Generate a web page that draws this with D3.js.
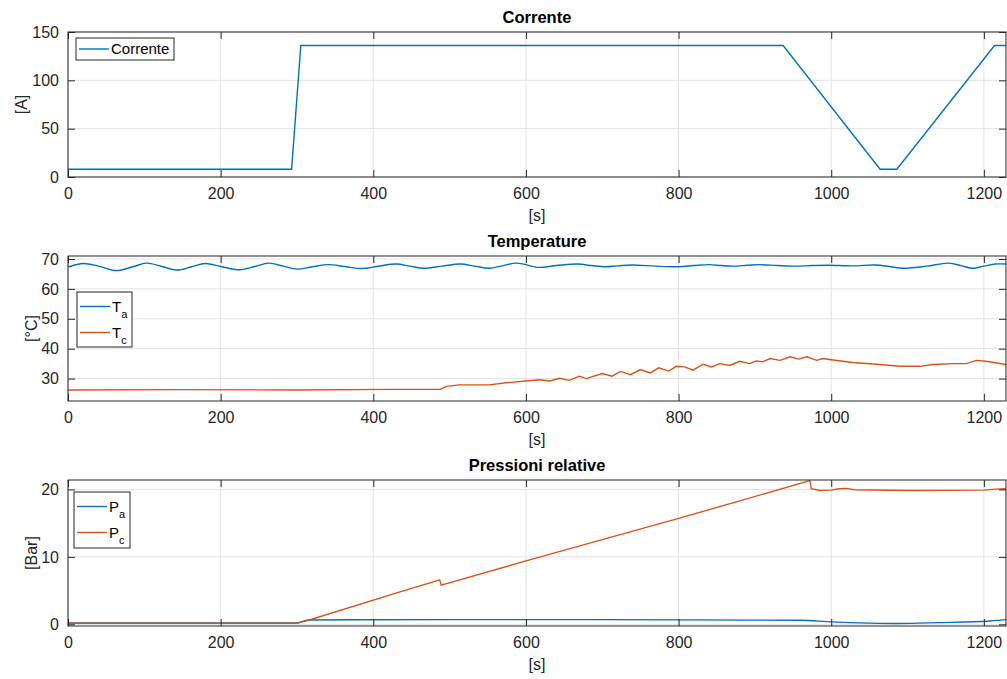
<!DOCTYPE html>
<html>
<head>
<meta charset="utf-8">
<script src="https://cdn.jsdelivr.net/npm/d3@7"></script>
<style>
  body { margin: 0; background: #fff; }
  svg { display: block; font-family: "Liberation Sans", Arial, Helvetica, sans-serif; }
</style>
</head>
<body>
<div id="chart"></div>
<script>
// x axis ticks (time in seconds)
const xTicks = [0, 200, 400, 600, 800, 1000, 1200];

// Corrente [A]
const corrente = [[0, 8], [293, 8], [305, 136], [937, 136], [1064, 8], [1086, 8], [1214, 136], [1229, 136]];

// Temperature [°C]
const tempA = [[0, 67.3], [20, 68.5], [40, 67.6], [64, 66.1], [85, 67.4], [103, 68.6], [123, 67.5], [143, 66.3],
  [162, 67.4], [180, 68.5], [200, 67.5], [225, 66.4], [245, 67.5], [263, 68.6], [282, 67.6], [300, 66.6],
  [320, 67.4], [341, 68.1], [362, 67.5], [385, 66.8], [405, 67.5], [430, 68.3], [448, 67.6], [466, 66.9],
  [490, 67.6], [514, 68.3], [533, 67.6], [552, 66.9], [570, 67.8], [587, 68.6], [600, 68.1], [615, 67.2],
  [640, 67.8], [668, 68.3], [686, 67.8], [704, 67.4], [720, 67.7], [739, 68.0], [770, 67.6], [800, 67.4],
  [820, 67.8], [840, 68.1], [856, 67.8], [871, 67.6], [890, 67.9], [906, 68.1], [930, 67.8], [952, 67.6],
  [975, 67.8], [997, 67.9], [1028, 67.7], [1058, 68.0], [1076, 67.5], [1094, 66.9], [1125, 67.6], [1154, 68.6],
  [1170, 67.8], [1185, 66.9], [1200, 67.6], [1215, 68.3], [1229, 68.3]];
const tempC = [[0, 26.2], [150, 26.3], [300, 26.2], [420, 26.4], [488, 26.4], [496, 27.4], [513, 27.9], [552, 27.9],
  [574, 28.6], [600, 29.2], [618, 29.6], [631, 29.2], [644, 30.1], [657, 29.4], [670, 30.8], [679, 30.0],
  [700, 31.7], [713, 30.8], [724, 32.4], [737, 31.3], [750, 33.0], [763, 31.9], [774, 33.6], [787, 32.5],
  [797, 34.1], [808, 33.9], [819, 32.8], [832, 34.8], [843, 33.9], [854, 35.0], [867, 34.4], [880, 35.8],
  [893, 35.0], [902, 35.9], [910, 35.6], [920, 36.7], [933, 36.1], [946, 37.3], [957, 36.5], [968, 37.3],
  [981, 36.1], [989, 36.7], [1000, 36.3], [1028, 35.4], [1064, 34.7], [1090, 34.1], [1116, 34.1], [1133, 34.7],
  [1160, 35.0], [1177, 35.0], [1190, 36.1], [1203, 35.8], [1229, 34.7]];

// Pressioni relative [Bar]
const pressA = [[0, 0.2], [300, 0.2], [315, 0.65], [500, 0.7], [700, 0.7], [959, 0.6], [1000, 0.36], [1050, 0.18],
  [1086, 0.12], [1140, 0.25], [1208, 0.5], [1229, 0.7]];
const pressC = [[0, 0.15], [300, 0.15], [315, 0.6], [435, 4.8], [487, 6.6], [489, 5.8], [600, 9.4], [800, 15.7],
  [972, 21.3], [974, 20.1], [985, 19.85], [1000, 19.9], [1010, 20.1], [1020, 20.15], [1030, 19.95],
  [1100, 19.85], [1200, 19.9], [1215, 20.05], [1229, 20.1]];

const blue = "#0072BD", orange = "#D95319", axisColor = "#262626";

const panels = [
  { title: "Corrente", ylabel: "[A]", yDomain: [0, 150], yTicks: [0, 50, 100, 150], top: 32, bottom: 177, ylabelX: 21,
    series: [{ data: corrente, color: blue, name: "Corrente", curve: d3.curveLinear }],
    legend: { x: 76, y: 38, w: 98, h: 22 } },
  { title: "Temperature", ylabel: "[°C]", yDomain: [22.5, 71], yTicks: [30, 40, 50, 60, 70], top: 256, bottom: 401, ylabelX: 31,
    series: [{ data: tempA, color: blue, name: "T", sub: "a", curve: d3.curveCatmullRom },
             { data: tempC, color: orange, name: "T", sub: "c", curve: d3.curveLinear }],
    legend: { x: 77, y: 292, w: 55, h: 55 } },
  { title: "Pressioni relative", ylabel: "[Bar]", yDomain: [-0.25, 21.4], yTicks: [0, 10, 20], top: 480, bottom: 626, ylabelX: 31,
    series: [{ data: pressA, color: blue, name: "P", sub: "a", curve: d3.curveMonotoneX },
             { data: pressC, color: orange, name: "P", sub: "c", curve: d3.curveLinear }],
    legend: { x: 74, y: 492, w: 56, h: 56 } }
];

const width = 1007, height = 679;
const left = 68, right = 1006;

const svg = d3.select("#chart").append("svg")
  .attr("width", width).attr("height", height);

const x = d3.scaleLinear().domain([0, 1229]).range([left, right]);

panels.forEach((p, i) => {
  const y = d3.scaleLinear().domain(p.yDomain).range([p.bottom, p.top]);
  const g = svg.append("g");
  const tickLen = 7;

  // grid
  g.append("g").selectAll("line.vx").data(xTicks).join("line")
    .attr("x1", d => x(d)).attr("x2", d => x(d)).attr("y1", p.top).attr("y2", p.bottom)
    .attr("stroke", "#e3e3e3").attr("stroke-width", 1);
  g.append("g").selectAll("line.hy").data(p.yTicks).join("line")
    .attr("x1", left).attr("x2", right).attr("y1", d => y(d)).attr("y2", d => y(d))
    .attr("stroke", "#e3e3e3").attr("stroke-width", 1);

  // data lines
  const clipId = "clip" + i;
  svg.append("clipPath").attr("id", clipId).append("rect")
    .attr("x", left).attr("y", p.top).attr("width", right - left).attr("height", p.bottom - p.top);
  p.series.forEach(s => {
    const line = d3.line().x(d => x(d[0])).y(d => y(d[1])).curve(s.curve);
    g.append("path").datum(s.data)
      .attr("clip-path", `url(#${clipId})`)
      .attr("fill", "none").attr("stroke", s.color).attr("stroke-width", 1.4)
      .attr("d", line);
  });

  // axes with inward ticks
  const fmt = d3.format("d");
  const xAxisB = d3.axisBottom(x).tickValues(xTicks).tickFormat(fmt).tickSizeInner(-tickLen).tickSizeOuter(0).tickPadding(11);
  const xAxisT = d3.axisTop(x).tickValues(xTicks).tickSizeInner(-tickLen).tickSizeOuter(0).tickFormat("");
  const yAxisL = d3.axisLeft(y).tickValues(p.yTicks).tickFormat(fmt).tickSizeInner(-tickLen).tickSizeOuter(0).tickPadding(9);
  const yAxisR = d3.axisRight(y).tickValues(p.yTicks).tickSizeInner(-tickLen).tickSizeOuter(0).tickFormat("");

  const axes = [
    g.append("g").attr("transform", `translate(0,${p.bottom})`).call(xAxisB),
    g.append("g").attr("transform", `translate(0,${p.top})`).call(xAxisT),
    g.append("g").attr("transform", `translate(${left},0)`).call(yAxisL),
    g.append("g").attr("transform", `translate(${right},0)`).call(yAxisR)
  ];
  axes.forEach(a => {
    a.select(".domain").remove();
    a.selectAll(".tick line").attr("stroke", axisColor);
    a.selectAll(".tick text").attr("fill", axisColor).style("font-size", "16px");
  });

  // box
  g.append("rect").attr("x", left).attr("y", p.top)
    .attr("width", right - left).attr("height", p.bottom - p.top)
    .attr("fill", "none").attr("stroke", axisColor).attr("stroke-width", 1);

  // title
  g.append("text").attr("x", (left + right) / 2).attr("y", p.top - 9)
    .attr("text-anchor", "middle").style("font-size", "16.5px").style("font-weight", "bold")
    .attr("fill", "#000").text(p.title);

  // x label
  g.append("text").attr("x", (left + right) / 2).attr("y", p.bottom + 44)
    .attr("text-anchor", "middle").style("font-size", "16px").attr("fill", axisColor).text("[s]");

  // y label
  g.append("text")
    .attr("transform", `translate(${p.ylabelX},${(p.top + p.bottom) / 2}) rotate(-90)`)
    .attr("text-anchor", "middle").attr("dy", "0.35em")
    .style("font-size", "16px").attr("fill", axisColor).text(p.ylabel);

  // legend
  const L = p.legend;
  const lg = g.append("g");
  lg.append("rect").attr("x", L.x).attr("y", L.y).attr("width", L.w).attr("height", L.h)
    .attr("fill", "#fff").attr("stroke", axisColor).attr("stroke-width", 1);
  const rowH = p.series.length > 1 ? 26 : 22;
  p.series.forEach((s, k) => {
    const cy = p.series.length > 1 ? L.y + 14.5 + k * rowH : L.y + L.h / 2;
    lg.append("line").attr("x1", L.x + 3).attr("x2", L.x + 33).attr("y1", cy).attr("y2", cy)
      .attr("stroke", s.color).attr("stroke-width", 1.4);
    const t = lg.append("text").attr("x", L.x + 35).attr("y", cy + 5)
      .style("font-size", "15px").attr("fill", "#000").text(s.name);
    if (s.sub) {
      t.append("tspan").attr("dy", 6).style("font-size", "11px").text(s.sub);
    }
  });
});
</script>
</body>
</html>
